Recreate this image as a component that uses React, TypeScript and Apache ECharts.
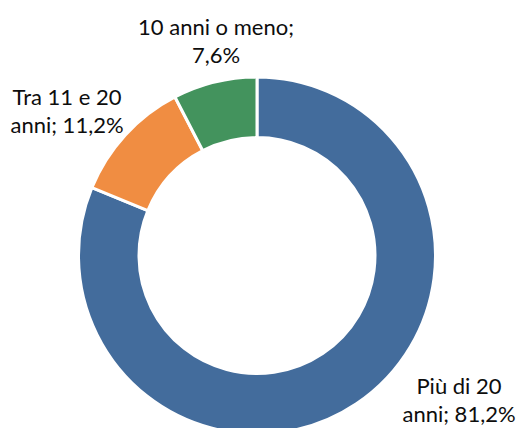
import React, { useEffect, useRef } from "react";
import * as echarts from "echarts";

const categories = ["Più di 20 anni", "Tra 11 e 20 anni", "10 anni o meno"];
const values = [81.2, 11.2, 7.6];
const labelTexts = ["Più di 20\nanni; 81,2%", "Tra 11 e 20\nanni; 11,2%", "10 anni o meno;\n7,6%"];
const colors = ["#436C9C", "#F08D42", "#43935D"];

const labelPos = [
  { x: 459, y: 399 },
  { x: 67, y: 110 },
  { x: 216, y: 40 },
];

export default function App() {
  const ref = useRef<HTMLDivElement>(null);
  useEffect(() => {
    document.body.style.margin = "0";
    const chart = echarts.init(ref.current!, null, { renderer: "svg" });
    chart.setOption({
      animation: false,
      backgroundColor: "#ffffff",
      series: [
        {
          type: "pie",
          center: [257, 255.5],
          radius: [118, 178.5],
          startAngle: 90,
          clockwise: true,
          avoidLabelOverlap: false,
          itemStyle: { borderColor: "#ffffff", borderWidth: 3 },
          label: {
            show: true,
            formatter: (p: any) => labelTexts[p.dataIndex],
            fontFamily: "Lato, 'Noto Sans', sans-serif",
            fontSize: 22,
            lineHeight: 28,
            color: "#0d0d0d",
            align: "center",
          },
          labelLine: { show: false },
          labelLayout: (p: any) => ({
            x: labelPos[p.dataIndex].x,
            y: labelPos[p.dataIndex].y,
            align: "center",
            verticalAlign: "middle",
          }),
          emphasis: { disabled: true },
          data: categories.map((c, i) => ({
            name: c,
            value: values[i],
            itemStyle: { color: colors[i] },
          })),
        },
      ],
    });
    return () => chart.dispose();
  }, []);
  return <div ref={ref} style={{ width: 521, height: 428 }} />;
}
